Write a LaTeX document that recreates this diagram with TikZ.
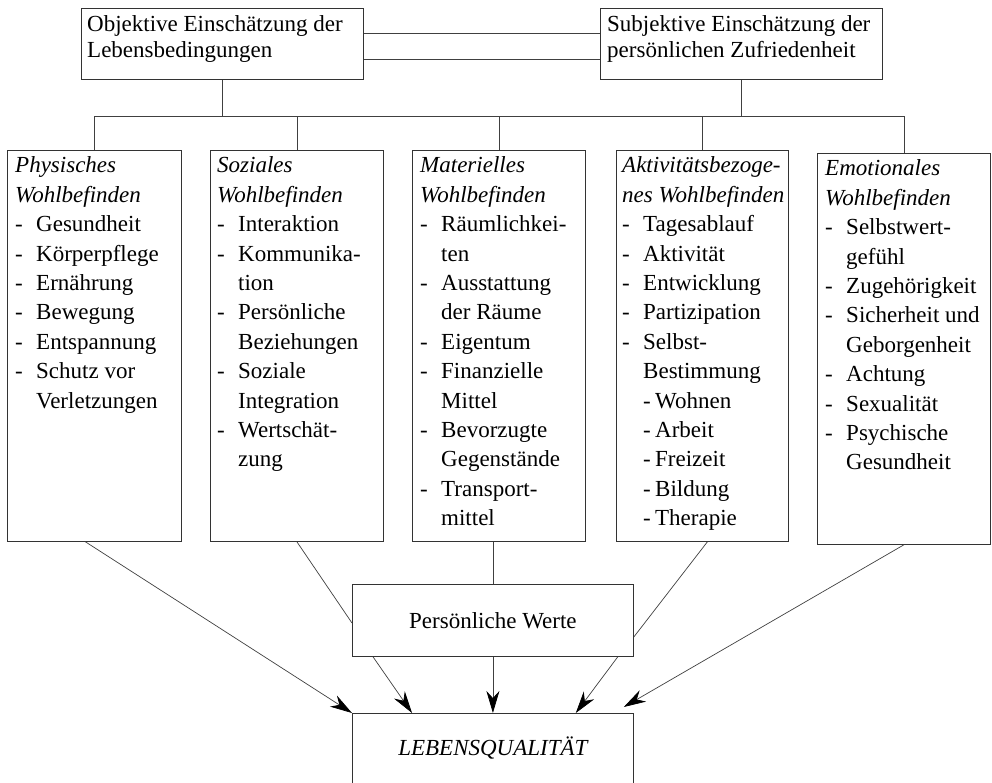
\documentclass[tikz,border=0pt]{standalone}
\usepackage{fontspec}
\setmainfont{Liberation Serif}
\usetikzlibrary{arrows.meta,calc}
\newcommand\Ln[1]{\hbox{#1}}
\newcommand\Hd[1]{\hbox{\itshape #1}}
\newcommand\It[1]{\hbox{\makebox[21pt][l]{-}#1}}
\newcommand\Ct[1]{\hbox{\hspace*{21pt}#1}}
\newcommand\Sb[1]{\hbox{\hspace*{21pt}\makebox[12pt][l]{-}#1}}
\newcommand\Stack[2]{\vtop{\baselineskip=#1\lineskiplimit=-100pt\lineskip=0pt #2}}
\begin{document}
\begin{tikzpicture}[x=1pt,y=-1pt,font=\fontsize{23}{29.4}\selectfont,
  box/.style={draw=black!80,line width=0.8pt,inner sep=0pt,anchor=north west},
  txt/.style={inner sep=0pt,anchor=base west},
  conn/.style={draw=black!75,line width=0.7pt},
  arr/.style={conn,-{Stealth[length=22pt,width=13pt,inset=7pt,color=black]}}]
\clip (0,0) rectangle (992,783);
% top boxes
\node[box,minimum width=282pt,minimum height=71pt] (tl) at (81,8) {};
\node[box,minimum width=282pt,minimum height=71pt] (tr) at (600,8) {};
\node[txt] (tlt) at (87,32) {\Stack{25.6pt}{\Ln{Objektive Einschätzung der}\Ln{Lebensbedingungen}}};
\node[txt] (trt) at (607,32) {\Stack{25.6pt}{\Ln{Subjektive Einschätzung der}\Ln{persönlichen Zufriedenheit}}};
% five boxes
\node[box,minimum width=174pt,minimum height=391pt] (p1) at (7,150) {};
\node[box,minimum width=173pt,minimum height=391pt] (p2) at (210,150) {};
\node[box,minimum width=173pt,minimum height=391pt] (p3) at (412,150) {};
\node[box,minimum width=172pt,minimum height=391pt] (p4) at (616,150) {};
\node[box,minimum width=173pt,minimum height=391pt] (p5) at (817,153) {};
\node[txt] (p1t) at (15,173) {\Stack{29.4pt}{\Hd{Physisches}\Hd{Wohlbefinden}\It{Gesundheit}\It{Körperpflege}\It{Ernährung}\It{Bewegung}\It{Entspannung}\It{Schutz vor}\Ct{Verletzungen}}};
\node[txt] (p2t) at (217,173) {\Stack{29.4pt}{\Hd{Soziales}\Hd{Wohlbefinden}\It{Interaktion}\It{Kommunika-}\Ct{tion}\It{Persönliche}\Ct{Beziehungen}\It{Soziale}\Ct{Integration}\It{Wertschät-}\Ct{zung}}};
\node[txt] (p3t) at (420,173) {\Stack{29.4pt}{\Hd{Materielles}\Hd{Wohlbefinden}\It{Räumlichkei-}\Ct{ten}\It{Ausstattung}\Ct{der Räume}\It{Eigentum}\It{Finanzielle}\Ct{Mittel}\It{Bevorzugte}\Ct{Gegenstände}\It{Transport-}\Ct{mittel}}};
\node[txt] (p4t) at (622,173) {\Stack{29.4pt}{\Hd{Aktivitätsbezoge-}\Hd{nes Wohlbefinden}\It{Tagesablauf}\It{Aktivität}\It{Entwicklung}\It{Partizipation}\It{Selbst-}\Ct{Bestimmung}\Sb{Wohnen}\Sb{Arbeit}\Sb{Freizeit}\Sb{Bildung}\Sb{Therapie}}};
\node[txt] (p5t) at (825,176) {\Stack{29.4pt}{\Hd{Emotionales}\Hd{Wohlbefinden}\It{Selbstwert-}\Ct{gefühl}\It{Zugehörigkeit}\It{Sicherheit und}\Ct{Geborgenheit}\It{Achtung}\It{Sexualität}\It{Psychische}\Ct{Gesundheit}}};
% lower boxes
\node[box,minimum width=281pt,minimum height=72pt] (pw) at (352,584) {Persönliche Werte};
\node[box,minimum width=281pt,minimum height=100pt] (lq) at (352,713) {};
\node[inner sep=0pt,anchor=base] (lqt) at ($(lq.north)+(0,42)$) {\itshape LEBENSQUALITÄT};
% connectors
\coordinate (brL) at (94,116);
\coordinate (brR) at (904,116);
\draw[conn] (brL) -- (brR);
\draw[conn] (tl.south) -- (tl.south |- brL);
\draw[conn] (tr.south) -- (tr.south |- brL);
\foreach \n in {p1,p2,p3,p4,p5} \draw[conn] (\n.north) -- (\n.north |- brL);
\draw[conn] ($(tl.north east)+(0,25)$) -- ($(tr.north west)+(0,25)$);
\draw[conn] ($(tl.north east)+(0,51)$) -- ($(tr.north west)+(0,51)$);
\draw[arr] ($(p1.south)+(-9,0)$) -- (lq.north west);
\draw[conn] (p2.south) -- ($(pw.north west)+(0,39)$);
\draw[conn] (pw.north |- p3.south) -- (pw.north);
\draw[conn] ($(p4.south)+(5,0)$) -- ($(pw.north east)+(0,53)$);
\draw[arr] (p5.south) -- ($(lq.north east)+(-10,-6)$);
\draw[arr] ($(pw.south west)+(21,0)$) -- ($(lq.north west)+(60,0)$);
\draw[arr] (pw.south) -- (lq.north);
\draw[arr] ($(pw.south east)+(-16,0)$) -- ($(lq.north east)+(-58,0)$);
\end{tikzpicture}
\end{document}
